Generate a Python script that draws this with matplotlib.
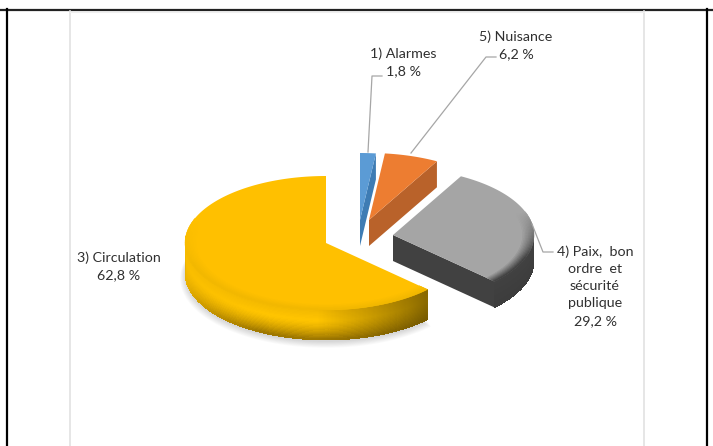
import numpy as np
import matplotlib
matplotlib.use("Agg")
import matplotlib.pyplot as plt
from matplotlib.collections import PolyCollection
from matplotlib.colors import to_rgb

# chart values, clockwise from 12 o'clock
categories = ["1) Alarmes", "5) Nuisance", "4) Paix,  bon\nordre  et\nsécurité\npublique", "3) Circulation"]
shares = [1.8, 6.2, 29.2, 62.8]
share_labels = ["1,8 %", "6,2 %", "29,2 %", "62,8 %"]

top_colors = ["#5B9BD5", "#ED7D31", "#A5A5A5", "#FFC000"]
side_colors = ["#3E7CB4", "#B9622A", "#414141", "#9A7400"]

# layout, in reference pixels
apexes = [(360, 220), (369, 220), (393, 235), (326, 243)]
depths = [26, 26, 26, 30]
label_pos = [(403, 62), (516, 45), (595, 286), (119, 266)]
leaders = [
    [(368, 152), (372, 76), (382, 76)],
    [(411, 153), (486, 57), (496, 57)],
    [(532, 224), (543, 252), (553, 252)],
]
RX, RY = 141, 67


def blend(c1, c2, t):
    c1, c2 = np.array(to_rgb(c1)), np.array(to_rgb(c2))
    return tuple(c1 + (c2 - c1) * t)


def ell(apex, ang, scale=1.0, dy=0.0):
    # ang in radians, clockwise from the top
    return apex[0] + RX * scale * np.sin(ang), apex[1] - RY * scale * np.cos(ang) + dy


def rim_color(i, ang, t):
    side = side_colors[i]
    if i == 3:
        # gold rim: bright band under the bevel, dark at the foot
        if t < 0.35:
            c = blend("#F2B800", "#FFC400", t / 0.35)
        else:
            c = blend("#FFC400", side, ((t - 0.35) / 0.65) ** 1.5)
        right = np.clip((np.pi * 1.02 - ang) / (np.pi * 0.27), 0, 1)
        left = np.clip((ang - np.pi * 1.15) / (np.pi * 0.3), 0, 1)
        c = blend(c, "#F8BC00", left * 0.85)
        return blend(c, "#6E5400", right * 0.8)
    return blend(side, "#383838", t * 0.5)


def draw_slice(ax, i, start, end):
    apex = apexes[i]
    depth = depths[i]
    top, side = top_colors[i], side_colors[i]
    a = np.linspace(start, end, 160)

    # cut face on the clockwise end, only seen if it faces the viewer
    if end < np.pi * 0.85:
        x1, y1 = ell(apex, end)
        face = [(apex[0], apex[1]), (x1, y1), (x1, y1 + depth), (apex[0], apex[1] + depth)]
        ax.fill(*zip(*face), color=side, lw=0, zorder=3 + i * -0.1)

    # outer rim, drawn as little shaded quads
    front = np.linspace(max(start, np.pi * 0.47), min(end, np.pi * 1.53), 260)
    if end > np.pi * 0.47:
        polys, cols = [], []
        for k in range(len(front) - 1):
            for d in range(24):
                t0, t1 = d / 24, (d + 1) / 24
                polys.append([
                    ell(apex, front[k], dy=depth * t0), ell(apex, front[k + 1], dy=depth * t0),
                    ell(apex, front[k + 1], dy=depth * t1), ell(apex, front[k], dy=depth * t1),
                ])
                cols.append(rim_color(i, front[k], (t0 + t1) / 2))
        ax.add_collection(PolyCollection(polys, facecolors=cols, edgecolors="none", antialiaseds=False, zorder=3 + i * -0.1))

    # top face
    xs, ys = ell(apex, a)
    ax.fill(np.r_[apex[0], xs], np.r_[apex[1], ys], color=top, lw=0, zorder=3.01 + i * -0.1)

    # bevel along the lower part of the edge
    if i < 2:
        return
    polys, cols = [], []
    for k in range(len(a) - 1):
        low = np.clip((0.35 - np.cos(a[k])) / 0.7, 0, 1)
        if low <= 0:
            continue
        for s in range(8):
            r0, r1 = 0.92 + s * 0.01, 0.93 + s * 0.01
            polys.append([ell(apex, a[k], r0), ell(apex, a[k + 1], r0), ell(apex, a[k + 1], r1), ell(apex, a[k], r1)])
            dark = "#F2B800" if i == 3 else side
            cols.append(blend(top, dark, low * (s + 1) / 8))
    ax.add_collection(PolyCollection(polys, facecolors=cols, edgecolors=cols, linewidths=0.3, zorder=3.02 + i * -0.1))


fig = plt.figure(figsize=(7.13, 4.46), dpi=100)
ax = fig.add_axes([0, 0, 1, 1])
ax.set_xlim(0, 713)
ax.set_ylim(446, 0)
ax.axis("off")

# page frame and chart box
ax.plot([0, 713], [9.5, 9.5], color="#222222", lw=1.6, zorder=1)
ax.plot([7, 7], [9, 446], color="black", lw=1.6, zorder=1)
ax.plot([706.5, 706.5], [9, 446], color="black", lw=1.6, zorder=1)
ax.plot([69.5, 69.5], [11, 446], color="#E2E2E2", lw=1.2, zorder=1)
ax.plot([644, 644], [11, 446], color="#E2E2E2", lw=1.2, zorder=1)
ax.plot([69.5, 644], [11.5, 11.5], color="#EFEFEF", lw=0.8, zorder=1)

# soft shadow under the pie
bounds = np.cumsum([0] + shares) / 100 * 2 * np.pi
for n in range(8):
    a = np.linspace(bounds[3], bounds[4], 120)
    sc = 1.0 + 0.005 * n
    xs, ys = ell(apexes[3], a, sc, dy=depths[3] + 2 + n * 0.5)
    ax.fill(np.r_[apexes[3][0], xs], np.r_[apexes[3][1] + depths[3], ys], color="#000000", alpha=0.018, lw=0, zorder=2)

for i in range(3, -1, -1):
    draw_slice(ax, i, bounds[i], bounds[i + 1])

for pts in leaders:
    ax.plot(*zip(*pts), color="#A6A6A6", lw=0.9, zorder=5)

for name, val, (x, y) in zip(categories, share_labels, label_pos):
    ax.text(x, y, f"{name}\n{val}", ha="center", va="center", fontsize=10.3,
            family="Lato", color="#303030", linespacing=1.52, zorder=6)

fig.savefig("out.png", dpi=100)
